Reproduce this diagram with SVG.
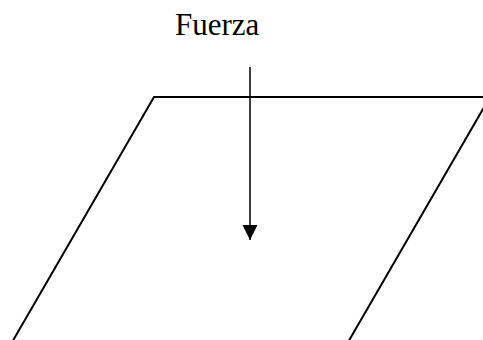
<svg xmlns="http://www.w3.org/2000/svg" width="483" height="340" viewBox="0 0 483 340">
<style>
.edge{stroke:#000;stroke-width:2;fill:none}
.label{font-family:"Liberation Serif","Times New Roman",serif;font-size:31px;fill:#000}
</style>
<defs>
<marker id="ah" markerUnits="userSpaceOnUse" markerWidth="16" markerHeight="16" refX="15" refY="8" orient="auto">
<path d="M0,0.5 L15,8 L0,15.5 Z" fill="#000"/>
</marker>
</defs>
<rect width="483" height="340" fill="#fff"/>
<g id="plane">
<path class="edge" d="M11,344 L154,97 L490,97 L347,344"/>
</g>
<g id="force-label">
<text class="label" x="175" y="35">Fuerza</text>
</g>
<g id="connectors">
<line class="edge" x1="250" y1="67" x2="250" y2="240" stroke-width="1.5" marker-end="url(#ah)" style="stroke-width:1.5"/>
</g>
</svg>
